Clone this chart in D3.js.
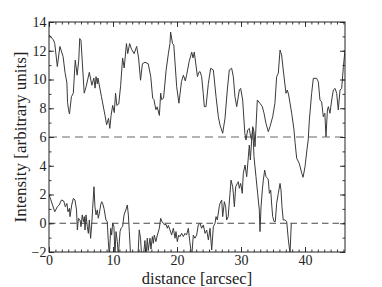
<!DOCTYPE html>
<html>
<head>
<meta charset="utf-8">
<script src="https://cdn.jsdelivr.net/npm/d3@7"></script>
<style>
  body { margin: 0; background: #fff; }
  svg { display: block; }
  .tick text { font-family: "Liberation Serif", "Times New Roman", serif; font-size: 14px; fill: #222; }
  .label { font-family: "Liberation Serif", "Times New Roman", serif; font-size: 17px; fill: #222; }
  .xlabel { font-size: 16.5px; }
</style>
</head>
<body>
<div id="content"></div>
<script>
// upper profile (offset curve)
const upperX = [0, 0.7, 0.9, 1.3, 1.7, 2.2, 2.5, 2.8, 2.9, 3.05, 3.2, 3.5, 3.8, 4.1, 4.4, 4.65, 4.8, 5.0, 5.5, 5.8,
  6.3, 6.7, 7.0, 7.2, 7.35, 7.55, 7.65, 8.2, 8.75, 9.0, 9.3, 9.5, 9.7, 9.95, 10.2, 10.4, 10.6, 10.9, 11.2, 11.5,
  11.75, 12.1, 12.3, 12.6, 12.9, 13.3, 13.7, 14.0, 14.3, 14.6, 15.0, 15.5, 15.9, 16.2, 16.4, 16.7, 16.9, 17.25, 17.45, 17.6,
  17.9, 18.3, 18.65, 18.9, 19.0, 19.3, 19.5, 19.95, 20.3, 20.7, 21.0, 21.3, 21.5, 21.9, 22.3, 22.5, 22.7, 23.2, 23.4, 23.6,
  23.85, 24.1, 24.27, 24.53, 24.9, 25.26, 25.68, 26.1, 26.46, 26.72, 27.14, 27.5, 27.86, 28.17, 28.54, 28.8, 29.06, 29.33, 29.74, 29.95,
  30.26, 30.6, 30.78, 31.04, 31.3, 31.5, 31.67, 31.83, 32.03, 32.19, 32.55, 32.97, 33.33, 33.6, 33.9, 34.27, 34.53, 34.95, 35.3, 35.57,
  35.83, 36.1, 36.35, 36.6, 37.03, 37.24, 37.45, 37.92, 38.28, 38.45, 38.7, 39.1, 39.5, 39.7, 40.0, 40.3, 40.5, 40.68, 41.04, 41.3,
  41.82, 42.08, 42.34, 42.6, 42.86, 43.1, 43.28, 43.5, 43.65, 43.9, 44.17, 44.43, 44.7, 44.95, 45.2, 45.47, 45.73, 46.0, 46.25];
const upperY = [13.1, 12.75, 12.5, 10.9, 12.3, 11.6, 10.5, 9.75, 8.4, 7.9, 7.6, 8.8, 9.05, 11.35, 10.3, 11.35, 12.85, 12.7, 9.05, 9.5,
  10.5, 9.6, 10.1, 9.4, 10.2, 9.7, 10.1, 8.8, 7.5, 6.85, 7.3, 6.6, 7.5, 8.2, 7.7, 9.05, 8.2, 8.3, 9.6, 11.5,
  10.8, 12.5, 11.8, 12.5, 12.1, 11.8, 12.3, 11.5, 9.95, 11.1, 11.2, 11.1, 10.2, 8.7, 8.6, 7.9, 8.1, 7.5, 9.05, 8.6,
  8.7, 10.65, 11.8, 12.5, 13.3, 12.5, 12.4, 9.5, 8.35, 9.85, 10.3, 9.9, 10.3, 11.25, 11.9, 11.5, 11.9, 10.2, 10.5, 10.55,
  10.2, 9.04, 8.11, 8.11, 9.73, 10.78, 10.66, 8.8, 7.41, 6.83, 6.26, 7.3, 9.27, 10.66, 10.78, 10.2, 8.8, 8.11, 9.27, 9.38,
  8.57, 6.26, 5.79, 6.49, 6.6, 6.02, 5.79, 6.72, 6.37, 5.33, 8.57, 8.34, 8.11, 7.65, 6.95, 6.37, 6.72, 7.41, 8.34, 10.2,
  10.43, 12.05, 11.7, 10.66, 9.04, 9.27, 8.92, 7.65, 6.49, 5.6, 4.52, 4.17, 3.47, 3.2, 3.93, 5.1, 5.79, 7.18, 9.04, 10.08,
  10.08, 9.85, 8.57, 8.45, 7.41, 7.65, 6.02, 7.88, 8.11, 7.65, 8.57, 9.27, 9.38, 9.04, 7.88, 9.27, 9.38, 10.9, 12.05];

// lower profile
const lowerX = [0, 0.26, 0.9, 1.3, 1.6, 1.95, 2.3, 2.55, 2.8, 2.96, 3.2, 3.28, 3.55, 3.8, 4.06, 4.3, 4.43, 4.6, 4.85, 5.0,
  5.2, 5.37, 5.52, 5.63, 5.78, 5.99, 6.15, 6.3, 6.5, 6.67, 6.82, 7.03, 7.18, 7.35, 7.55, 7.7, 7.87, 8.07, 8.23, 8.38,
  8.59, 8.9, 9.1, 9.27, 9.43, 9.64, 9.79, 9.95, 10.15, 10.3, 10.47, 10.68, 10.83, 11.1, 11.25, 11.5, 11.72, 12.0, 12.24, 12.4,
  12.55, 12.76, 13.9, 14.1, 14.3, 14.48, 14.75, 14.99, 15.15, 15.36, 15.5, 15.78, 15.93, 16.15, 16.3, 16.45, 16.7, 16.93, 17.24, 17.45,
  17.66, 17.86, 18.07, 18.28, 18.49, 18.65, 18.9, 19.16, 19.43, 19.69, 19.84, 20.05, 20.26, 20.47, 20.73, 21.0, 21.25, 21.5, 21.77, 22.0,
  22.3, 22.55, 22.8, 23.07, 23.33, 23.59, 23.85, 24.11, 24.38, 24.64, 24.9, 25.16, 25.42, 25.68, 25.94, 26.1, 26.3, 26.6, 26.72, 26.98,
  27.14, 27.4, 27.6, 27.76, 28.0, 28.28, 28.44, 28.7, 28.8, 28.96, 29.17, 29.43, 29.58, 29.74, 29.95, 30.2, 30.36, 30.63, 30.89, 31.15,
  31.3, 31.46, 31.67, 31.85, 32.03, 32.34, 32.6, 32.86, 32.97, 33.13, 33.33, 33.49, 33.7, 33.9, 34.17, 34.27, 34.43, 34.64, 34.8, 34.95,
  35.16, 35.36, 35.57, 35.83, 36.1, 36.25, 36.4, 36.6, 36.88, 37.14, 37.4, 37.66, 37.86];
const lowerY = [1.97, 1.67, 0.8, 1.15, 1.27, 1.62, 1.55, 1.15, 1.38, 0.8, 1.04, 0.46, 1.27, 1.73, 1.62, 0.93, -0.47, 0.34, 0.23, -0.24,
  0.58, 0.11, 0.46, -0.47, 0.58, -0.24, -0.7, 0.23, -1.05, -0.12, 1.04, 2.54, 1.15, 0.58, 0.93, 0.35, 0.7, 1.27, 1.5, 1.38,
  1.04, 0.23, 0.11, -1.28, -2.3, -0.35, -0.82, 0, -0.24, -2.3, -0.58, -1.28, -2.3, -0.58, -0.35, -0.24, 0.57, 0.92, 1.27, 0.57,
  -0.58, -2.3, -2.3, -0.46, -1.04, -2.3, -2.3, -1.2, -2.3, -1.04, -1.9, -1.04, -1.8, -0.93, -1.4, -0.82, -1.28, -0.82, -0.35, 0.34,
  0.11, 0, -0.12, -0.07, -0.35, -0.15, -0.46, -0.82, -0.35, -1.04, -0.58, -1.28, -0.82, -0.93, -0.7, -0.93, -0.7, -0.82, -0.35, -1.28,
  -2.3, -0.82, -1.04, -0.82, -0.12, 0, -0.35, -0.12, -0.7, -0.47, -1.16, -0.35, -1.86, -0.24, 0, 0.46, 0.23, 1.15, 1.38, 1.62,
  0.46, 1.5, 1.15, 0.23, 0.46, 2.08, 3.0, 2.54, 2.08, 1.15, 2.54, 2.77, 2.89, 2.43, 2.77, 2.08, 3.47, 4.05, 3.24, 4.63,
  5.44, 4.4, 5.79, 6.6, 4.63, 3.24, 2.08, 0.93, -0.58, 1.15, 2.31, 3.0, 3.7, 3.24, 3.12, 3.0, 2.08, 2.31, 1.27, 0.46,
  0.12, 0.12, 1.38, 2.08, 2.77, 2.31, 1.15, 0.23, 0.23, 0.12, -1.16, -2.1, 0];

const xTicks = [0, 10, 20, 30, 40];
const yTicks = [-2, 0, 2, 4, 6, 8, 10, 12, 14];
const refLevels = [6, 0];

const W = 382, H = 287;
const margin = {top: 22, right: 37, bottom: 35, left: 49};
const width = W - margin.left - margin.right;
const height = H - margin.top - margin.bottom;

const svg = d3.select('#content')
  .append('svg')
  .attr('width', W)
  .attr('height', H);

const g = svg.append('g')
  .attr('transform', `translate(${margin.left},${margin.top})`);

const x = d3.scaleLinear().domain([0, 46.25]).range([0, width]);
const y = d3.scaleLinear().domain([-2, 14]).range([height, 0]);

g.append('clipPath')
  .attr('id', 'plot-clip')
  .append('rect')
  .attr('width', width)
  .attr('height', height);

// reference levels
g.selectAll('.ref')
  .data(refLevels)
  .enter()
  .append('line')
  .attr('class', 'ref')
  .attr('x1', 0)
  .attr('x2', width)
  .attr('y1', d => y(d))
  .attr('y2', d => y(d))
  .attr('stroke', d => d === 6 ? '#9a9a9a' : '#333')
  .attr('stroke-width', d => d === 6 ? 1.3 : 0.9)
  .attr('stroke-dasharray', d => d === 6 ? '8,5' : '6.5,4');

const line = d3.line()
  .x(d => x(d[0]))
  .y(d => y(d[1]));

const series = [d3.zip(upperX, upperY), d3.zip(lowerX, lowerY)];

g.append('g')
  .attr('clip-path', 'url(#plot-clip)')
  .selectAll('path')
  .data(series)
  .enter()
  .append('path')
  .attr('d', line)
  .attr('fill', 'none')
  .attr('stroke', '#3a3a3a')
  .attr('stroke-width', 1)
  .attr('stroke-linejoin', 'round');

// axes: ticks point inward on all four sides
function styleAxis(sel) {
  sel.select('.domain').remove();
  sel.selectAll('.tick line').attr('stroke', '#222').attr('stroke-width', 0.9);
}

g.append('g')
  .attr('transform', `translate(0,${height})`)
  .call(d3.axisBottom(x).tickValues(d3.range(0, 47, 1)).tickSize(-2.5).tickFormat(''))
  .call(styleAxis);
g.append('g')
  .attr('transform', `translate(0,${height})`)
  .call(d3.axisBottom(x).tickValues(xTicks).tickSize(-5).tickPadding(3))
  .call(styleAxis);
g.append('g')
  .call(d3.axisTop(x).tickValues(d3.range(0, 47, 1)).tickSize(-2.5).tickFormat(''))
  .call(styleAxis);
g.append('g')
  .call(d3.axisTop(x).tickValues(xTicks).tickSize(-5).tickFormat(''))
  .call(styleAxis);

g.append('g')
  .call(d3.axisLeft(y).tickValues(d3.range(-2, 15, 1)).tickSize(-2.5).tickFormat(''))
  .call(styleAxis);
g.append('g')
  .call(d3.axisLeft(y).tickValues(yTicks).tickSize(-5).tickPadding(2.5))
  .call(styleAxis);
g.append('g')
  .attr('transform', `translate(${width},0)`)
  .call(d3.axisRight(y).tickValues(d3.range(-2, 15, 1)).tickSize(-2.5).tickFormat(''))
  .call(styleAxis);
g.append('g')
  .attr('transform', `translate(${width},0)`)
  .call(d3.axisRight(y).tickValues(yTicks).tickSize(-5).tickFormat(''))
  .call(styleAxis);

g.append('rect')
  .attr('width', width)
  .attr('height', height)
  .attr('fill', 'none')
  .attr('stroke', '#222')
  .attr('stroke-width', 1);

svg.append('text')
  .attr('class', 'label xlabel')
  .attr('x', margin.left + width / 2)
  .attr('y', 283.5)
  .attr('text-anchor', 'middle')
  .text('distance [arcsec]');

svg.append('text')
  .attr('class', 'label')
  .attr('transform', `translate(26,${margin.top + height / 2}) rotate(-90)`)
  .attr('text-anchor', 'middle')
  .text('Intensity [arbitrary units]');
</script>
</body>
</html>
